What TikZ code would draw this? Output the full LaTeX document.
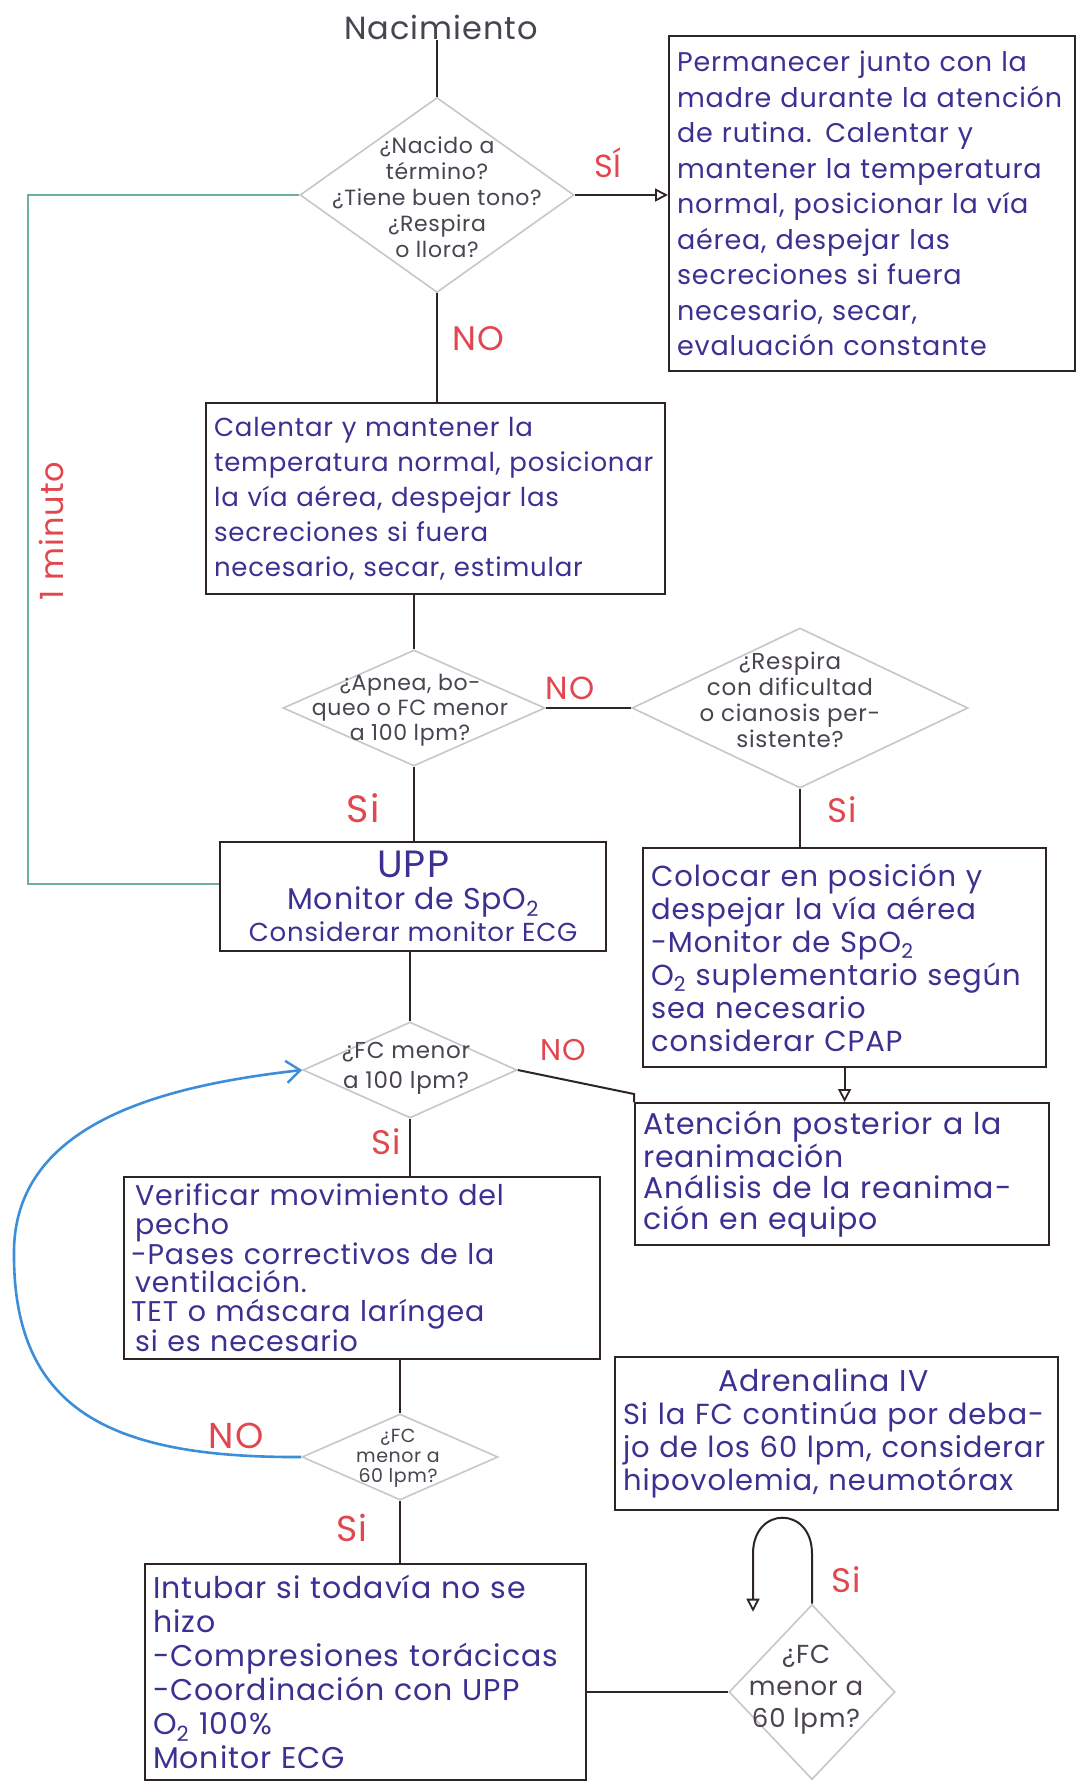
\documentclass[tikz,border=0pt]{standalone}
\usepackage{fontspec}
\setmainfont{Poppins}[LetterSpace=3]
\usetikzlibrary{shapes.geometric,arrows.meta}
\definecolor{boxc}{HTML}{2E2426}
\definecolor{diac}{HTML}{C9C6C6}
\definecolor{txtc}{HTML}{3B3192}
\definecolor{qtxt}{HTML}{4A4350}
\definecolor{redc}{HTML}{E2474F}
\definecolor{tealc}{HTML}{6FAEA0}
\definecolor{bluec}{HTML}{3D8ED8}
\newcommand{\fs}[2]{\fontsize{#1}{#2}\selectfont}
\begin{document}
\begin{tikzpicture}[x=1pt,y=-1pt,
 box/.style={draw=boxc, line width=2.2pt, rectangle, anchor=north west, inner sep=8pt, text=txtc, align=left},
 dia/.style={diamond, draw=diac, line width=1.6pt, inner sep=0pt},
 qtext/.style={text=qtxt, align=center, inner sep=0pt},
 lab/.style={text=redc, inner sep=0pt},
 conn/.style={draw=boxc, line width=2pt},
 opentip/.style={-{Triangle[open, length=13pt, width=13pt, line width=1.8pt]}},
]
\useasboundingbox[fill=white] (0,0) rectangle (1083,1781);

% title
\node[qtext, font=\fs{32}{36}] (nac) at (441,27) {Nacimiento};

% diamonds
\node[dia, minimum width=274pt, minimum height=195pt] (d1) at (437,195) {};
\node[qtext, font=\fs{22}{26}] (t1) at (437,197) {¿Nacido a\\término?\\¿Tiene buen tono?\\¿Respira\\o llora?};
\node[dia, minimum width=262pt, minimum height=116pt] (d3) at (414,708) {};
\node[qtext, font=\fs{22}{25}] (t3) at (410,710) {¿Apnea, bo-\\queo o FC menor\\a 100 lpm?};
\node[dia, minimum width=336pt, minimum height=160pt] (d4) at (800,708) {};
\node[qtext, font=\fs{23}{26}] (t4) at (790,700) {¿Respira\\con dificultad\\o cianosis per-\\sistente?};
\node[dia, minimum width=214pt, minimum height=96pt] (d5) at (410,1070) {};
\node[qtext, font=\fs{23}{30}] (t5) at (406,1068) {¿FC menor\\a 100 lpm?};
\node[dia, minimum width=196pt, minimum height=86pt] (d6) at (400,1457) {};
\node[qtext, font=\fs{19}{20}] (t6) at (398,1458) {¿FC\\menor a\\60 lpm?};
\node[dia, minimum width=166pt, minimum height=175pt] (d7) at (812,1692) {};
\node[qtext, font=\fs{26}{32}] (t7) at (806,1690) {¿FC\\menor a\\60 lpm?};

% boxes
\node[box, font=\fs{27}{35.5}, minimum width=406pt, minimum height=335pt, text width=390pt] (bA) at (668,35)
 {Permanecer junto con la\\madre durante la atención\\de rutina. Calentar y\\mantener la temperatura\\normal, posicionar la vía\\aérea, despejar las\\secreciones si fuera\\necesario, secar,\\evaluación constante};
\node[box, font=\fs{26}{35}, minimum width=459pt, minimum height=191pt, text width=443pt] (bB) at (205,402)
 {Calentar y mantener la\\temperatura normal, posicionar\\la vía aérea, despejar las\\secreciones si fuera\\necesario, secar, estimular};
\node[box, align=center, font=\fs{28}{32}, minimum width=386pt, minimum height=109pt, inner sep=3pt] (bUPP) at (219,841)
 {{\fs{38}{34}UPP}\\{\fs{30}{32}Monitor de SpO\textsubscript{2}}\\{\fs{26}{30}Considerar monitor ECG}};
\node[box, font=\fs{29}{33}, minimum width=403pt, minimum height=219pt, text width=387pt] (bC) at (642,847)
 {Colocar en posición y\\despejar la vía aérea\\-Monitor de SpO\textsubscript{2}\\O\textsubscript{2} suplementario según\\sea necesario\\considerar CPAP};
\node[box, font=\fs{30}{31}, minimum width=414pt, minimum height=142pt, text width=398pt] (bD) at (634,1102)
 {Atención posterior a la\\reanimación\\Análisis de la reanima-\\ción en equipo};
\node[box, font=\fs{28.5}{28.5}, inner sep=3pt, minimum width=476pt, minimum height=182pt, text width=462pt] (bE) at (123,1176)
 {\hspace*{4pt}Verificar movimiento del\\\hspace*{4pt}pecho\\-Pases correctivos de la\\\hspace*{4pt}ventilación.\\TET o máscara laríngea\\\hspace*{4pt}si es necesario};
\node[box, font=\fs{29}{33}, minimum width=443pt, minimum height=153pt, text width=427pt] (bG) at (614,1356)
 {\hspace*{95pt}{\fs{30}{33}Adrenalina IV}\\Si la FC continúa por deba-\\jo de los 60 lpm, considerar\\hipovolemia, neumotórax};
\node[box, font=\fs{30}{34}, minimum width=441pt, minimum height=216pt, text width=425pt] (bF) at (144,1563)
 {Intubar si todavía no se\\hizo\\-Compresiones torácicas\\-Coordinación con UPP\\O\textsubscript{2} 100\%\\Monitor ECG};

% connectors
\draw[conn] (d1.north |- nac.south) -- (d1.north);
\draw[conn, opentip] (d1.east) -- (d1.east -| bA.west);
\draw[conn] (d1.south) -- (d1.south |- bB.north);
\draw[conn] (d3.north |- bB.south) -- (d3.north);
\draw[conn] (d3.east) -- (d4.west);
\draw[conn] (d3.south) -- (d3.south |- bUPP.north);
\draw[conn] (d4.south) -- (d4.south |- bC.north);
\draw[conn] (d5.north |- bUPP.south) -- (d5.north);
\coordinate (cNo) at (634,1094);
\draw[conn] (d5.east) -- (cNo) -- (bD.north west);
\draw[conn, opentip] (bC.south) -- (bC.south |- bD.north);
\draw[conn] (d5.south) -- (d5.south |- bE.north);
\draw[conn] (d6.north |- bE.south) -- (d6.north);
\draw[conn] (d6.south) -- (d6.south |- bF.north);
\draw[conn] (d7.west) -- (d7.west -| bF.east);
\draw[conn, opentip] (d7.north) -- ++(0,-50) .. controls +(0,-48) and +(0,-48) .. ++(-59,0) -- ++(0,58);

% teal loop
\coordinate (tl1) at (28,195);
\coordinate (tl2) at (28,884);
\draw[draw=tealc, line width=2.4pt] (d1.west) -- (tl1) -- (tl2) -- (tl2 -| bUPP.west);

% blue loop
\draw[draw=bluec, line width=2.6pt, -{Straight Barb[length=14pt, width=22pt, line width=2.4pt]}]
  (d6.west) .. controls (110,1458) and (12,1410) .. (14,1250)
  .. controls (16,1120) and (170,1085) .. (d5.west);

% labels
\node[lab, font=\fs{32}{34}] (lSi1) at (608,163) {SÍ};
\node[lab, font=\fs{34}{36}] (lNo1) at (478,339) {NO};
\node[lab, font=\fs{32}{34}] (lNo2) at (570,688) {NO};
\node[lab, font=\fs{38}{40}] (lSi2) at (363,808) {Si};
\node[lab, font=\fs{34}{36}] (lSi3) at (842,810) {Si};
\node[lab, font=\fs{30}{32}] (lNo3) at (563,1050) {NO};
\node[lab, font=\fs{34}{36}] (lSi4) at (386,1142) {Si};
\node[lab, font=\fs{36}{38}] (lNo4) at (236,1436) {NO};
\node[lab, font=\fs{36}{38}] (lSi5) at (352,1528) {Si};
\node[lab, font=\fs{34}{36}] (lSi6) at (846,1580) {Si};
\node[lab, rotate=90, font=\fs{32}{34}] (lMin) at (51,531) {1 minuto};
\end{tikzpicture}
\end{document}
